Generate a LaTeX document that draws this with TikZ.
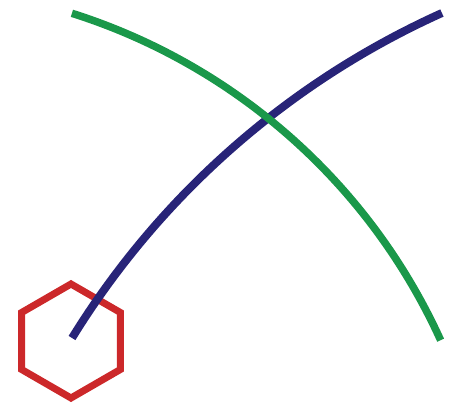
\documentclass[tikz,border=0pt]{standalone}
\definecolor{hexred}{RGB}{204,40,42}
\definecolor{navyline}{RGB}{40,36,120}
\definecolor{greenline}{RGB}{26,152,74}
\begin{document}
\begin{tikzpicture}[x=1pt,y=1pt,
  hexline/.style={draw=hexred,line width=7pt,line join=miter},
  navyarc/.style={draw=navyline,line width=8pt,line cap=butt},
  greenarc/.style={draw=greenline,line width=7.5pt,line cap=butt}]
\useasboundingbox (0,0) rectangle (450,404);
\coordinate (hc) at (71,63);
\draw[hexline] (hc) +(90:57) -- +(150:57) -- +(210:57) -- +(270:57) -- +(330:57) -- +(30:57) -- cycle;
\coordinate (navycenter) at (786.8,-374.6);
\draw[navyarc] (navycenter) +(148.35:839.7) arc[start angle=148.35,end angle=114.25,radius=839.7];
\coordinate (greencenter) at (-111,-187);
\draw[greenarc] (greencenter) +(72.43:606) arc[start angle=72.43,end angle=24.45,radius=606];
\end{tikzpicture}
\end{document}
